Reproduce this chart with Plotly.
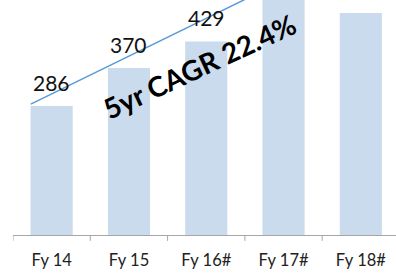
import plotly.graph_objects as go

categories = ["Fy 14", "Fy 15", "Fy 16#", "Fy 17#", "Fy 18#"]
values = [286, 370, 429, 545, 492]
labels = ["286", "370", "429", "", ""]
trend_x = [-0.27, 3.5]
trend_y = [290, 606]
cagr_text = "5yr CAGR 22.4%"

FONT = "Lato, 'Open Sans', sans-serif"

fig = go.Figure()
fig.add_trace(go.Bar(
    x=list(range(len(categories))), y=values,
    marker=dict(color="#c9dbec", line=dict(width=0)),
    width=0.545, hoverinfo="skip",
))
fig.add_trace(go.Scatter(
    x=trend_x, y=trend_y, mode="lines",
    line=dict(color="#5b9bd5", width=1.5), cliponaxis=True, hoverinfo="skip",
))
for i, (v, t) in enumerate(zip(values, labels)):
    if t:
        fig.add_annotation(x=i, y=v, text=t, showarrow=False, yshift=24,
                           font=dict(family=FONT, size=21, color="#111111"))
fig.add_annotation(
    x=0.487, y=0.72, xref="paper", yref="paper", text=cagr_text,
    xanchor="center", yanchor="middle",
    showarrow=False, textangle=-25,
    font=dict(family=FONT, size=28, color="#000000", weight="bold"),
)
fig.update_layout(
    width=396, height=273, showlegend=False,
    margin=dict(l=13, r=0, t=0, b=38),
    paper_bgcolor="white", plot_bgcolor="white",
    xaxis=dict(
        range=[-0.5, 4.455], tickmode="array",
        tickvals=list(range(len(categories))), ticktext=categories,
        showline=True, linecolor="#a6a6a6", linewidth=1,
        ticks="", showgrid=False, zeroline=False, ticklabelstandoff=10,
        tickfont=dict(family=FONT, size=16.5, color="#222222"),
    ),
    yaxis=dict(range=[0, 521], visible=False, showgrid=False, zeroline=False),
)
for b in [-0.5, 0.5, 1.5, 2.5, 3.5]:
    fig.add_shape(type="line", xref="x", yref="paper", x0=b, x1=b, y0=0, y1=-0.025,
                  line=dict(color="#a6a6a6", width=1))
fig.write_html("out.html", config={"displayModeBar": False},
               post_script="document.body.style.margin='0px';")
